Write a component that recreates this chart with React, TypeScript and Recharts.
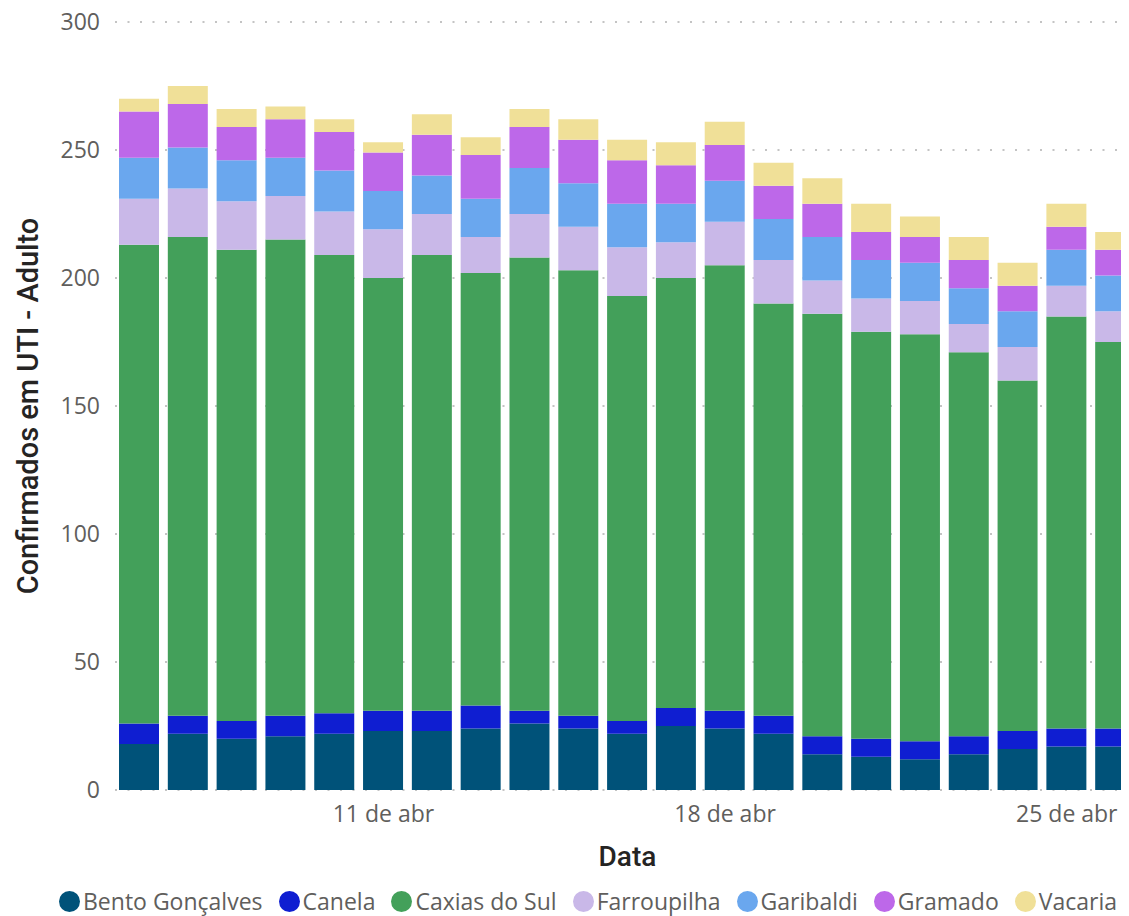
import React from 'react';
import { BarChart, Bar, XAxis, YAxis, CartesianGrid, Legend } from 'recharts';

const dates = ['6 de abr','7 de abr','8 de abr','9 de abr','10 de abr','11 de abr','12 de abr','13 de abr','14 de abr','15 de abr','16 de abr','17 de abr','18 de abr','19 de abr','20 de abr','21 de abr','22 de abr','23 de abr','24 de abr','25 de abr','26 de abr'];
const shownTicks = ['11 de abr', '18 de abr', '25 de abr'];
const yTicks = [0, 50, 100, 150, 200, 250, 300];

const bento = [18,22,20,21,22,23,23,24,26,24,22,25,24,22,14,13,12,14,16,17,17];
const canela = [8,7,7,8,8,8,8,9,5,5,5,7,7,7,7,7,7,7,7,7,7];
const caxias = [187,187,184,186,179,169,178,169,177,174,166,168,174,161,165,159,159,150,137,161,151];
const farroupilha = [18,19,19,17,17,19,16,14,17,17,19,14,17,17,13,13,13,11,13,12,12];
const garibaldi = [16,16,16,15,16,15,15,15,18,17,17,15,16,16,17,15,15,14,14,14,14];
const gramado = [18,17,13,15,15,15,16,17,16,17,17,15,14,13,13,11,10,11,10,9,10];
const vacaria = [5,7,7,5,5,4,8,7,7,8,8,9,9,9,10,11,8,9,9,9,7];

const seriesNames = ['Bento Gonçalves','Canela','Caxias do Sul','Farroupilha','Garibaldi','Gramado','Vacaria'];
const seriesColors = ['#005279','#0F1ED1','#43A05A','#C9B8E8','#6AA7EE','#BD68E9','#F0E098'];
const seriesValues = [bento, canela, caxias, farroupilha, garibaldi, gramado, vacaria];

const data = dates.map((d, i) => {
  const row: Record<string, string | number> = { date: d };
  seriesNames.forEach((n, k) => { row[n] = seriesValues[k][i]; });
  return row;
});

const FONT = '"Segoe UI", "Open Sans", sans-serif';
const TITLE_FONT = 'Roboto, "Noto Sans", sans-serif';

const YLabel = (props: any) => {
  const vb = props.viewBox || {};
  const cx = 20;
  const cy = (vb.y || 0) + (vb.height || 0) / 2;
  return (
    <text x={cx} y={cy} transform={`rotate(-90, ${cx}, ${cy})`} textAnchor="middle" dominantBaseline="central"
      fill="#252423" fontSize={29} fontWeight={500} fontFamily={TITLE_FONT}>
      Confirmados em UTI - Adulto
    </text>
  );
};

const LegendContent = () => (
  <div style={{ display: 'flex', alignItems: 'center', paddingLeft: 51, height: 30, lineHeight: '30px', fontFamily: FONT, fontSize: 23, color: '#605E5C', whiteSpace: 'nowrap' }}>
    {seriesNames.map((n, k) => (
      <div key={n} style={{ display: 'flex', alignItems: 'center', marginRight: 16 }}>
        <span style={{ width: 21, height: 21, borderRadius: '50%', background: seriesColors[k], display: 'inline-block', marginRight: 3 }} />
        <span>{n}</span>
      </div>
    ))}
  </div>
);

export default function App() {
  return (
    <div style={{ width: 1121, height: 916, overflow: 'hidden', marginTop: -8 }}>
      <BarChart width={1140} height={916} data={data} margin={{ top: 22, right: 8, left: 0, bottom: 0 }} barSize={40}>
        <CartesianGrid vertical={false} stroke="#C4C4C4" strokeWidth={2} strokeDasharray="2 10.5" />
        <XAxis dataKey="date" interval={0} height={96} tickLine={false} axisLine={false} tickMargin={10}
          tickFormatter={(v: string) => (shownTicks.includes(v) ? v : '')}
          tick={{ fill: '#605E5C', fontSize: 23, fontFamily: FONT }}
          label={{ value: 'Data', position: 'insideBottom', offset: 20, fill: '#252423', fontSize: 28, fontWeight: 500, fontFamily: TITLE_FONT }} />
        <YAxis width={107} domain={[0, 300]} ticks={yTicks} tickLine={false} axisLine={false} tickMargin={9}
          tick={{ fill: '#605E5C', fontSize: 23, fontFamily: FONT }} label={<YLabel />} />
        <Legend verticalAlign="bottom" align="left" height={30} content={<LegendContent />} />
        {seriesNames.map((n, k) => (
          <Bar key={n} dataKey={n} stackId="a" fill={seriesColors[k]} isAnimationActive={false} />
        ))}
      </BarChart>
    </div>
  );
}
